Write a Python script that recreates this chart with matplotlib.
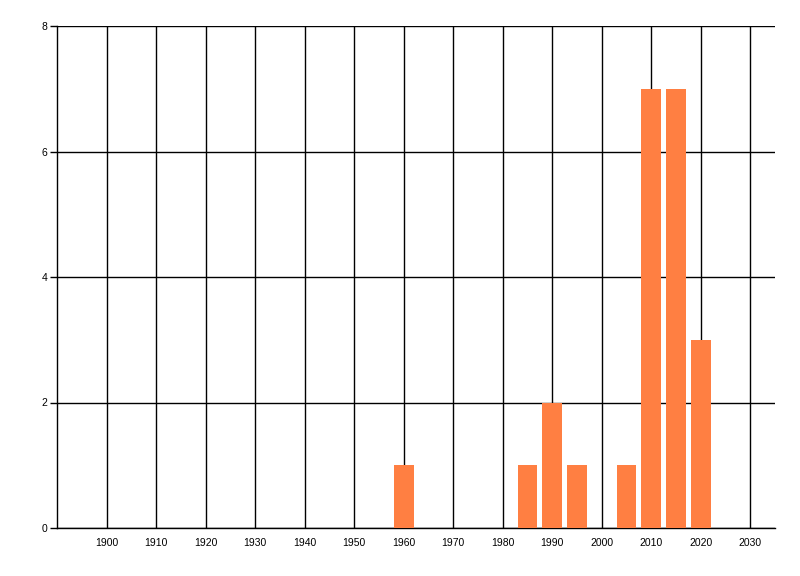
import matplotlib
matplotlib.use("Agg")
import matplotlib.pyplot as plt

years = [1960, 1985, 1990, 1995, 2005, 2010, 2015, 2020]
counts = [1, 1, 2, 1, 1, 7, 7, 3]
x_ticks = list(range(1900, 2031, 10))
y_ticks = [0, 2, 4, 6, 8]

plt.rcParams['font.family'] = ['Liberation Sans', 'DejaVu Sans']

fig = plt.figure(figsize=(8, 5.76), dpi=100)
ax = fig.add_axes([57/800, 1 - 528/576, (775 - 57)/800, (528 - 26)/576])

ax.bar(years, counts, width=4, color='#ff7f42', zorder=3)

ax.set_xlim(1890, 2035)
ax.set_ylim(0, 8)
ax.set_xticks(x_ticks)
ax.set_xticklabels([str(t) for t in x_ticks])
ax.set_yticks(y_ticks)

ax.grid(True, color='black', linewidth=1, zorder=0)
ax.set_axisbelow(True)
for s in ['top', 'right']:
    ax.spines[s].set_visible(False)
for s in ['left', 'bottom']:
    ax.spines[s].set_linewidth(1)
    ax.spines[s].set_color('black')

ax.tick_params(axis='x', length=0, pad=7, labelsize=7.5)
ax.tick_params(axis='y', length=5, width=1, pad=2, labelsize=7.5)

fig.savefig('out.png', dpi=100)
